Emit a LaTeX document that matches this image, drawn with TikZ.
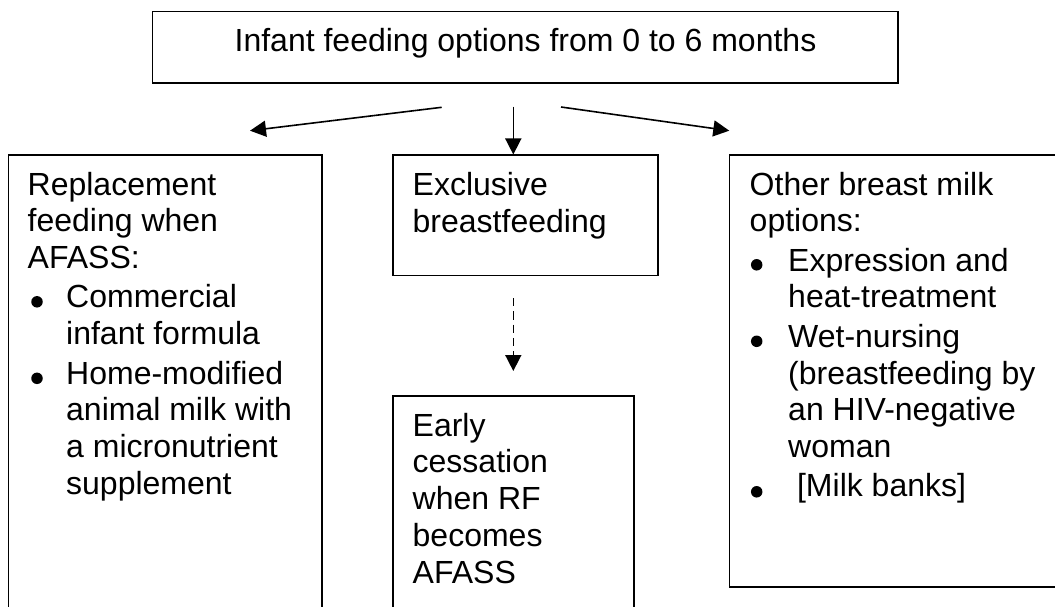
\documentclass[tikz,border=0pt]{standalone}
\usepackage{fontspec}
\setmainfont{Liberation Sans}
\usetikzlibrary{arrows.meta}
\tikzset{
  box/.style={draw=black, line width=1.6pt, rectangle, inner sep=0pt},
  txt/.style={anchor=base west, inner sep=0pt, font=\fontsize{32}{36.8}\selectfont},
  bul/.style={circle, fill=black, inner sep=0pt, minimum size=11.5pt},
  arr/.style={line width=1.6pt, -{Triangle[length=16pt,width=16pt]}},
  dasharr/.style={arr, dash pattern=on 8.3pt off 5pt},
}
\newcommand{\ind}{\hspace*{38.5pt}}
\begin{document}
\begin{tikzpicture}[x=1pt,y=-1pt]
\useasboundingbox (0,0) rectangle (1055,607);
\clip (0,0) rectangle (1055,607);
\fill[white] (0,0) rectangle (1055,607);
% boxes
\node[box, minimum width=745.4pt, minimum height=71.6pt] (top) at (525,47.5) {};
\node[box, minimum width=313.4pt, minimum height=485pt] (rf) at (165,397.5) {};
\node[box, minimum width=265pt, minimum height=120pt] (ebf) at (525.2,215.3) {};
\node[box, minimum width=241.3pt, minimum height=244.3pt] (ec) at (513.35,517.85) {};
\node[box, minimum width=340.7pt, minimum height=432pt] (obm) at (899.65,371) {};
% texts
\node[txt, anchor=base] (toptxt) at (525.5,51.7) {Infant feeding options from 0 to 6 months};
\node[txt] (rftxt) at (27.5,195) {\begin{tabular}[t]{@{}l@{}}
Replacement\\
feeding when\\
AFASS:\\[2.5pt]
\ind Commercial\\
\ind infant formula\\[2.5pt]
\ind Home-modified\\
\ind animal milk with\\
\ind a micronutrient\\
\ind supplement
\end{tabular}};
\node[txt] (ebftxt) at (412.5,196) {\begin{tabular}[t]{@{}l@{}}
Exclusive\\
breastfeeding
\end{tabular}};
\node[txt] (ectxt) at (412.5,436) {\begin{tabular}[t]{@{}l@{}}
Early\\
cessation\\
when RF\\
becomes\\
AFASS
\end{tabular}};
\node[txt] (obmtxt) at (749.5,195) {\begin{tabular}[t]{@{}l@{}}
Other breast milk\\
options:\\[2.5pt]
\ind Expression and\\
\ind heat-treatment\\[2.5pt]
\ind Wet-nursing\\
\ind (breastfeeding by\\
\ind an HIV-negative\\
\ind woman\\[2.5pt]
\ind\ [Milk banks]
\end{tabular}};
% bullets
\node[bul] (b1) at (37,301.8) {};
\node[bul] (b2) at (37,378.3) {};
\node[bul] (b3) at (756.7,264.8) {};
\node[bul] (b4) at (756.7,341.3) {};
\node[bul] (b5) at (756.7,491.8) {};
% arrows
\coordinate (l0) at (441.7,107.3);
\coordinate (l1) at (250,130.7);
\coordinate (m0) at (513.3,106.7);
\coordinate (r0) at (561,107);
\coordinate (r1) at (729.3,130.7);
\coordinate (d0) at (513.3,298);
\coordinate (d1) at (513.3,371);
\draw[arr] (l0) -- (l1);
\draw[arr] (m0) -- (m0 |- ebf.north);
\draw[arr] (r0) -- (r1);
\draw[dasharr] (d0) -- (d1);
\end{tikzpicture}
\end{document}
